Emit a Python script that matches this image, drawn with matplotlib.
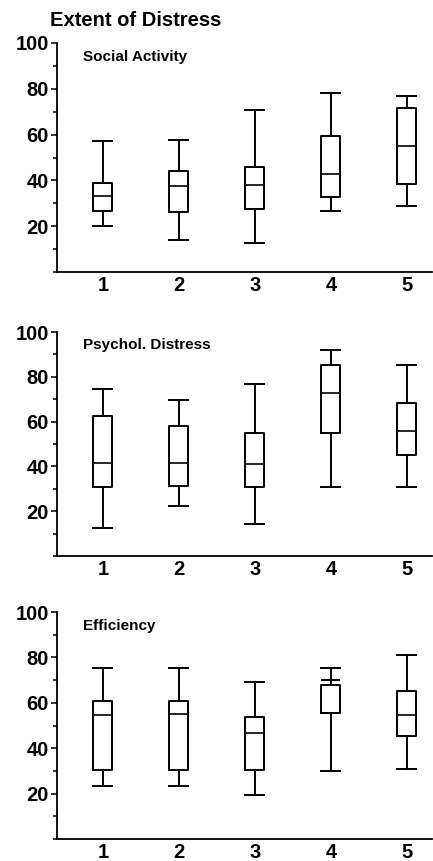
import matplotlib

matplotlib.use("Agg")
import matplotlib.pyplot as plt
from matplotlib.ticker import MultipleLocator

plt.rcParams["font.family"] = ["Liberation Sans", "DejaVu Sans"]

groups = [1, 2, 3, 4, 5]
panel_titles = ["Social Activity", "Psychol. Distress", "Efficiency"]

# per panel: lower whisker, Q1, median, Q3, upper whisker (one entry per group)
social_whislo = [20.2, 13.9, 12.6, 26.7, 28.7]
social_q1 = [26.8, 26.3, 27.4, 32.8, 38.6]
social_med = [33.4, 37.5, 37.9, 43.0, 55.2]
social_q3 = [38.8, 44.0, 45.7, 59.6, 71.6]
social_whishi = [57.1, 57.5, 70.6, 78.2, 76.7]

psych_whislo = [12.6, 22.2, 14.5, 30.9, 30.9]
psych_q1 = [30.9, 31.2, 30.9, 54.9, 45.3]
psych_med = [41.6, 41.6, 41.1, 72.9, 55.8]
psych_q3 = [62.4, 58.2, 54.8, 85.3, 68.3]
psych_whishi = [74.7, 69.8, 76.7, 92.1, 85.3]

eff_whislo = [23.2, 23.3, 19.2, 30.0, 31.0]
eff_q1 = [30.5, 30.5, 30.4, 55.6, 45.4]
eff_med = [54.8, 55.2, 46.5, 55.6, 54.5]
eff_q3 = [61.0, 60.6, 53.7, 67.7, 65.3]
eff_whishi = [75.2, 75.5, 69.0, 75.3, 80.9]

# extra cap marks seen on some whiskers: (panel index, group, value)
extra_caps = [(2, 4, 70.2)]

panels = [
    (social_whislo, social_q1, social_med, social_q3, social_whishi),
    (psych_whislo, psych_q1, psych_med, psych_q3, psych_whishi),
    (eff_whislo, eff_q1, eff_med, eff_q3, eff_whishi),
]

W, H = 433, 861
fig = plt.figure(figsize=(W / 100, H / 100), dpi=100)

# axes boxes in pixels: (left, top, right, bottom)
boxes_px = [(57, 43, 432, 272), (57, 332, 432, 556), (57, 612, 432, 839)]

bw = 0.25
line = dict(color="black", lw=1.4)
for i, ((lo, q1, med, q3, hi), (l, t, r, b)) in enumerate(zip(panels, boxes_px)):
    ax = fig.add_axes([l / W, 1 - b / H, (r - l) / W, (b - t) / H])
    stats = [
        dict(whislo=lo[k], q1=q1[k], med=med[k], q3=q3[k], whishi=hi[k], fliers=[])
        for k in range(len(groups))
    ]
    ax.bxp(stats, positions=groups, widths=bw, capwidths=bw, showfliers=False,
           boxprops=line, whiskerprops=line, capprops=line,
           medianprops=dict(color="black", lw=1.2))
    for p, g, v in extra_caps:
        if p == i:
            ax.hlines(v, g - bw / 2, g + bw / 2, color="black", lw=1.4)

    ax.set_xlim(0.395, 5.33)
    ax.set_ylim(0, 100)
    ax.spines[["top", "right"]].set_visible(False)
    ax.spines[["left", "bottom"]].set_linewidth(1.3)
    ax.set_yticks([20, 40, 60, 80, 100])
    ax.yaxis.set_minor_locator(MultipleLocator(10))
    ax.tick_params(axis="y", which="major", length=4, width=1.1, pad=2, labelsize=14.5)
    ax.tick_params(axis="y", which="minor", length=3, width=1.1)
    ax.set_xticks(groups)
    ax.set_xticklabels([str(g) for g in groups])
    ax.tick_params(axis="x", length=0, pad=3, labelsize=14.5)
    for lab in ax.get_xticklabels() + ax.get_yticklabels():
        lab.set_fontweight("bold")
    ax.text(0.07, 0.94, panel_titles[i], transform=ax.transAxes,
            fontsize=11, fontweight="bold", va="center", ha="left")

fig.text(50 / W, 1 - 20 / H, "Extent of Distress", fontsize=14.5,
         fontweight="bold", va="center", ha="left")

fig.savefig("out.png", dpi=100)
